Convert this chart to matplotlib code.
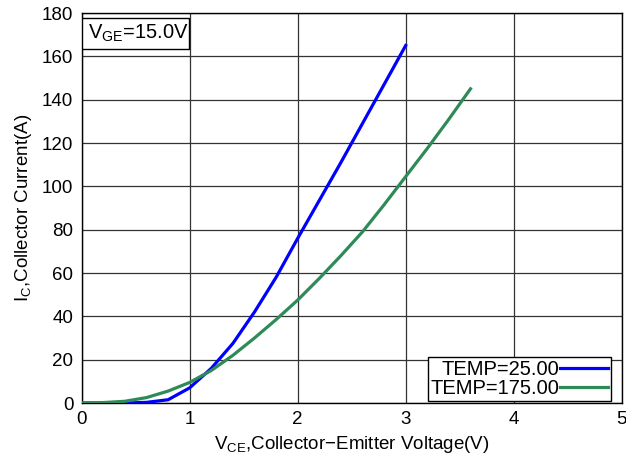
import numpy as np
import matplotlib
matplotlib.use("Agg")
from matplotlib import pyplot as plt
from matplotlib.patches import Rectangle

plt.rcParams['font.family'] = ['Liberation Sans', 'DejaVu Sans']
plt.rcParams['mathtext.fontset'] = 'custom'
plt.rcParams['mathtext.rm'] = 'Liberation Sans'
plt.rcParams['mathtext.it'] = 'Liberation Sans'

# Output characteristic data
vce_25 = [0.0, 0.2, 0.4, 0.6, 0.8, 1.0, 1.2, 1.4, 1.6, 1.8, 2.0, 2.2, 2.4, 2.6, 2.8, 3.0]
ic_25 = [0.0, 0.0, 0.0, 0.3, 1.5, 7.0, 16.0, 27.5, 42.0, 58.0, 76.0, 93.5, 111.0, 129.0, 147.0, 165.0]

vce_175 = [0.0, 0.2, 0.4, 0.6, 0.8, 1.0, 1.2, 1.4, 1.6, 1.8, 2.0, 2.2, 2.4, 2.6, 2.8, 3.0, 3.2, 3.4, 3.6]
ic_175 = [0.0, 0.2, 0.8, 2.5, 5.5, 9.5, 15.0, 22.0, 30.0, 38.5, 47.5, 57.5, 68.0, 79.0, 91.5, 104.5, 117.5, 131.0, 145.0]

labels = ['TEMP=25.00', 'TEMP=175.00']
colors = ['#0000ff', '#2e8b57']

fig = plt.figure(figsize=(6.26, 4.61), dpi=100)
ax = fig.add_axes([0.1305, 0.1258, 0.8626, 0.846])

ax.plot(vce_25, ic_25, color=colors[0], lw=2.3, label=labels[0], zorder=3)
ax.plot(vce_175, ic_175, color=colors[1], lw=2.3, label=labels[1], zorder=3)

ax.set_xlim(0, 5)
ax.set_ylim(0, 180)
ax.set_xticks(np.arange(0, 6, 1))
ax.set_yticks(np.arange(0, 181, 20))
ax.grid(True, color='#333333', lw=0.9)
ax.tick_params(length=0, labelsize=13.5, pad=6)
for s in ax.spines.values():
    s.set_linewidth(1.0)

ax.set_xlabel('V$_{\\rm CE}$,Collector\u2212Emitter Voltage(V)', fontsize=13.5, labelpad=4)
ax.set_ylabel('I$_{\\rm C}$,Collector Current(A)', fontsize=13.5, labelpad=6)

# V_GE annotation box
ax.add_patch(Rectangle((0.0, 0.9077), 0.199, 0.0795, transform=ax.transAxes,
                       facecolor='white', edgecolor='black', lw=1.0, zorder=4))
ax.text(0.012, 0.947, 'V$_{\\rm GE}$=15.0V', transform=ax.transAxes,
        fontsize=14.5, va='center', ha='left', zorder=5)

leg = ax.legend(loc='lower right', bbox_to_anchor=(0.98, 0.005), markerfirst=False,
                fancybox=False, edgecolor='black', framealpha=1, fontsize=14.5,
                handlelength=2.4, handletextpad=0.0, labelspacing=0.0,
                borderpad=0.15, borderaxespad=0.0)
leg.get_frame().set_linewidth(1.0)
for t in leg.get_texts():
    t.set_ha('right')

fig.savefig('out.png', dpi=100)
